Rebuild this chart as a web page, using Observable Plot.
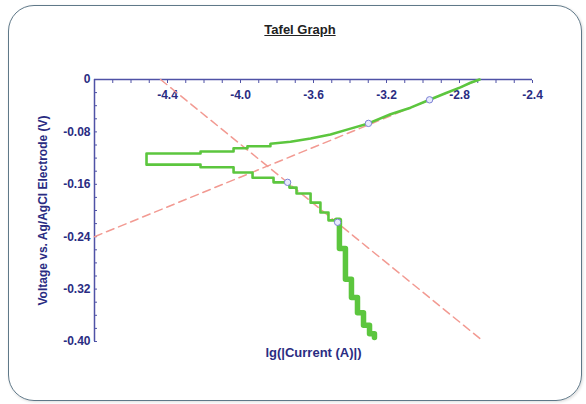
<!DOCTYPE html>
<html>
<head>
<meta charset="utf-8">
<script src="https://cdn.jsdelivr.net/npm/d3@7"></script>
<script src="https://cdn.jsdelivr.net/npm/@observablehq/plot@0.6"></script>
<style>
  html, body { margin: 0; padding: 0; background: #ffffff; }
  #wrap { position: relative; width: 586px; height: 404px; overflow: hidden; background: #ffffff; }
  #frame { position: absolute; left: 8px; top: 5px; width: 574px; height: 396px; box-sizing: border-box;
           border: 1.5px solid #5f7888; border-radius: 26px; box-shadow: 1px 1px 3px rgba(0,0,0,0.15); }
  #title { position: absolute; left: 0; top: 22px; width: 600px; text-align: center;
           font-family: "Liberation Sans", Arial, sans-serif; font-weight: bold; font-size: 13px;
           color: #222; text-decoration: underline; }
  #chart { position: absolute; left: 0; top: 0; }
</style>
</head>
<body>
<div id="wrap">
  <div id="frame"></div>
  <div id="title">Tafel Graph</div>
  <div id="chart"></div>
</div>
<script>
// ---- data ----
const titleText = "Tafel Graph";
const xLabel = "lg(|Current (A)|)";
const yLabel = "Voltage vs. Ag/AgCl Electrode (V)";

const xTicks = [-4.4, -4.0, -3.6, -3.2, -2.8, -2.4];
const yTicks = [0, -0.08, -0.16, -0.24, -0.32, -0.40];
const xMinor = d3.range(-48, -23, 1).map(d => d / 10);
const yMinor = d3.range(0, -41, -2).map(d => d / 100);

// measured curve (steady part): log current, potential
const mainLgI = [-2.690,-2.740,-2.795,-2.877,-2.964,-3.068,-3.178,-3.299,-3.397,-3.507,-3.616,-3.726,-3.836,-3.836,-3.962,-3.962,-4.038,-4.038,-4.219,-4.219,-4.515,-4.515,-4.219,-4.219,-4.038,-4.038,-3.934,-3.934,-3.819,-3.819,-3.732,-3.732,-3.693,-3.693,-3.616,-3.616,-3.562,-3.562,-3.518,-3.518,-3.474];
const mainV   = [0,-0.005,-0.012,-0.021,-0.031,-0.043,-0.053,-0.067,-0.075,-0.084,-0.090,-0.095,-0.098,-0.102,-0.102,-0.105,-0.105,-0.110,-0.110,-0.113,-0.113,-0.130,-0.130,-0.134,-0.134,-0.142,-0.142,-0.150,-0.150,-0.157,-0.157,-0.165,-0.165,-0.174,-0.174,-0.188,-0.188,-0.203,-0.203,-0.215,-0.215];

// measured curve (noisy cathodic tail)
const tailLgI = [-3.474,-3.458,-3.458,-3.425,-3.425,-3.392,-3.392,-3.359,-3.359,-3.326,-3.326,-3.293,-3.293,-3.266];
const tailV   = [-0.215,-0.228,-0.258,-0.265,-0.305,-0.315,-0.333,-0.340,-0.356,-0.365,-0.375,-0.382,-0.388,-0.394];

// Tafel fit lines
const fitName = ["cathodic", "cathodic", "anodic", "anodic"];
const fitLgI  = [-4.438, -2.668, -4.8, -2.69];
const fitV    = [0, -0.40, -0.24, 0];

// fit anchor points
const anchorLgI = [-2.964, -3.299, -3.742, -3.468];
const anchorV   = [-0.031, -0.067, -0.157, -0.218];

// ---- tables ----
const mainRows = mainLgI.map((x, i) => ({x, y: mainV[i]}));
const tailRows = tailLgI.map((x, i) => ({x, y: tailV[i]}));
const fitRows = fitLgI.map((x, i) => ({x, y: fitV[i], z: fitName[i]}));
const anchorRows = anchorLgI.map((x, i) => ({x, y: anchorV[i]}));

const navy = "#2a2c82";
const axisCol = "#4f52a6";
const green = "#5cc63e";
const font = "'Liberation Sans', Arial, sans-serif";

document.getElementById("title").textContent = titleText;

const chart = Plot.plot({
  width: 586,
  height: 404,
  marginLeft: 94,
  marginRight: 54,
  marginTop: 79,
  marginBottom: 63,
  style: { fontFamily: font, background: "transparent", overflow: "visible" },
  x: { domain: [-4.8, -2.4] },
  y: { domain: [-0.40, 0] },
  marks: [
    Plot.axisY(yMinor, { anchor: "left", tickSize: -3, stroke: axisCol, tickFormat: () => "", label: null }),
    Plot.axisX(xMinor, { anchor: "top", tickSize: -3, stroke: axisCol, tickFormat: () => "", label: null }),
    Plot.axisY(yTicks, { anchor: "left", tickSize: 0, tickPadding: 4, fontSize: 12, fontWeight: "bold", fill: navy,
      tickFormat: d => d === 0 ? "0" : d.toFixed(2), label: null }),
    Plot.text(xTicks, { x: d => d, frameAnchor: "top", dy: 11, text: d => d.toFixed(1),
      fontSize: 12, fontWeight: "bold", fill: navy }),
    Plot.ruleY([0], { stroke: axisCol, strokeWidth: 1.5 }),
    Plot.ruleX([-4.8], { stroke: axisCol, strokeWidth: 1.5 }),
    Plot.line(fitRows, { x: "x", y: "y", z: "z", stroke: "#f29a92", strokeWidth: 1.5, strokeDasharray: "8,5" }),
    Plot.line(mainRows, { x: "x", y: "y", stroke: green, strokeWidth: 2.6, curve: "linear" }),
    Plot.line(tailRows, { x: "x", y: "y", stroke: green, strokeWidth: 5.5, curve: "step-after" }),
    Plot.dot(anchorRows, { x: "x", y: "y", r: 3.2, stroke: "#7c82d6", fill: "#e8eafc", strokeWidth: 1 }),
    Plot.text([xLabel], { frameAnchor: "bottom", dy: 15, fontSize: 13, fontWeight: "bold", fill: navy }),
    Plot.text([yLabel], { frameAnchor: "left", dx: -51, rotate: -90, textAnchor: "middle",
      fontSize: 12, fontWeight: "bold", fill: navy })
  ]
});
document.getElementById("chart").appendChild(chart);
</script>
</body>
</html>
